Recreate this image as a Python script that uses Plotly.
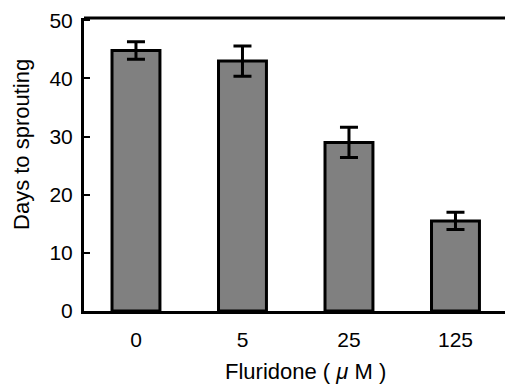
import plotly.graph_objects as go

# Fluridone treatment levels and mean days to sprouting (± error)
doses = ["0", "5", "25", "125"]
days = [44.8, 43.0, 29.0, 15.5]
errors = [1.5, 2.6, 2.6, 1.5]
y_ticks = [0, 10, 20, 30, 40, 50]

font_family = "Liberation Sans, Arial, sans-serif"

fig = go.Figure(
    go.Bar(
        x=doses,
        y=days,
        width=0.45,
        marker=dict(color="#808080", line=dict(color="black", width=3)),
        error_y=dict(type="data", array=errors, visible=True,
                     color="black", thickness=3, width=9),
    )
)

fig.update_layout(
    width=505,
    height=385,
    margin=dict(l=84, r=0, t=18, b=74),
    paper_bgcolor="white",
    plot_bgcolor="white",
    showlegend=False,
    font=dict(family=font_family, color="black"),
    # top frame line only (no right-hand border)
    shapes=[dict(type="line", xref="paper", yref="paper",
                 x0=0, x1=1, y0=1, y1=1,
                 line=dict(color="black", width=3))],
    # axis titles placed as annotations
    annotations=[
        dict(text="Days to sprouting", textangle=-90,
             xref="paper", yref="paper", x=-0.147, y=0.567,
             xanchor="center", yanchor="middle", showarrow=False,
             font=dict(size=22)),
        dict(text="Fluridone ( <i>μ</i> M )",
             xref="paper", yref="paper", x=0.527, y=-0.208,
             xanchor="center", yanchor="middle", showarrow=False,
             font=dict(size=22)),
    ],
)

fig.update_xaxes(
    type="category",
    range=[-0.488, 3.465],
    showline=True,
    linecolor="black",
    linewidth=3,
    mirror=False,
    ticks="",
    showgrid=False,
    tickfont=dict(size=21),
    ticklabelstandoff=8,
)

fig.update_yaxes(
    range=[0, 50.4],
    tickvals=y_ticks,
    showline=True,
    linecolor="black",
    linewidth=3,
    ticks="inside",
    ticklen=6,
    tickwidth=2,
    tickcolor="black",
    showgrid=False,
    zeroline=False,
    tickfont=dict(size=21),
    ticklabelstandoff=4,
)

fig.write_html("out.html")
